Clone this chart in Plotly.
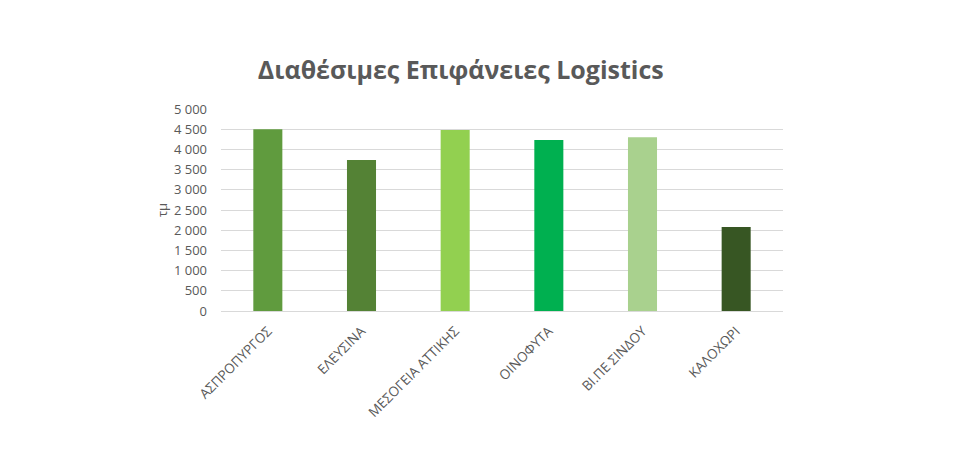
import plotly.graph_objects as go

categories = ["ΑΣΠΡΟΠΥΡΓΟΣ", "ΕΛΕΥΣΙΝΑ", "ΜΕΣΟΓΕΙΑ ΑΤΤΙΚΗΣ", "ΟΙΝΟΦΥΤΑ", "ΒΙ.ΠΕ ΣΙΝΔΟΥ", "ΚΑΛΟΧΩΡΙ"]
values = [4500, 3735, 4480, 4230, 4300, 2080]
colors = ["#609B3E", "#548235", "#92D050", "#00B050", "#A9D18E", "#375623"]

fig = go.Figure(go.Bar(x=categories, y=values, marker=dict(color=colors, line=dict(width=0)), width=0.31))

fig.update_layout(
    width=964, height=475,
    margin=dict(l=221, r=181, t=109, b=164),
    paper_bgcolor="white", plot_bgcolor="white",
    separators=", ",
    font=dict(family="Open Sans", size=13, color="#595959"),
    title=dict(text="<b>Διαθέσιμες Επιφάνειες Logistics</b>", x=0.478, xanchor="center",
               y=0.853, yanchor="middle", font=dict(size=25, color="#595959", family="Open Sans")),
    showlegend=False,
)
fig.update_yaxes(range=[0, 5000], dtick=500, tickformat=",d", showgrid=True, gridcolor="#D9D9D9",
                 gridwidth=1, zeroline=True, zerolinecolor="#D9D9D9", zerolinewidth=1,
                 ticks="", ticklabelstandoff=13, tickfont=dict(size=13, color="#595959"),
                 title=dict(text="τμ", font=dict(size=13, color="#595959"), standoff=3))
fig.update_xaxes(tickangle=-45, showline=True, linecolor="#D9D9D9", linewidth=1,
                 ticklabelstandoff=6, tickfont=dict(size=13.5, color="#595959"), ticks="")

fig.write_html("out.html")
